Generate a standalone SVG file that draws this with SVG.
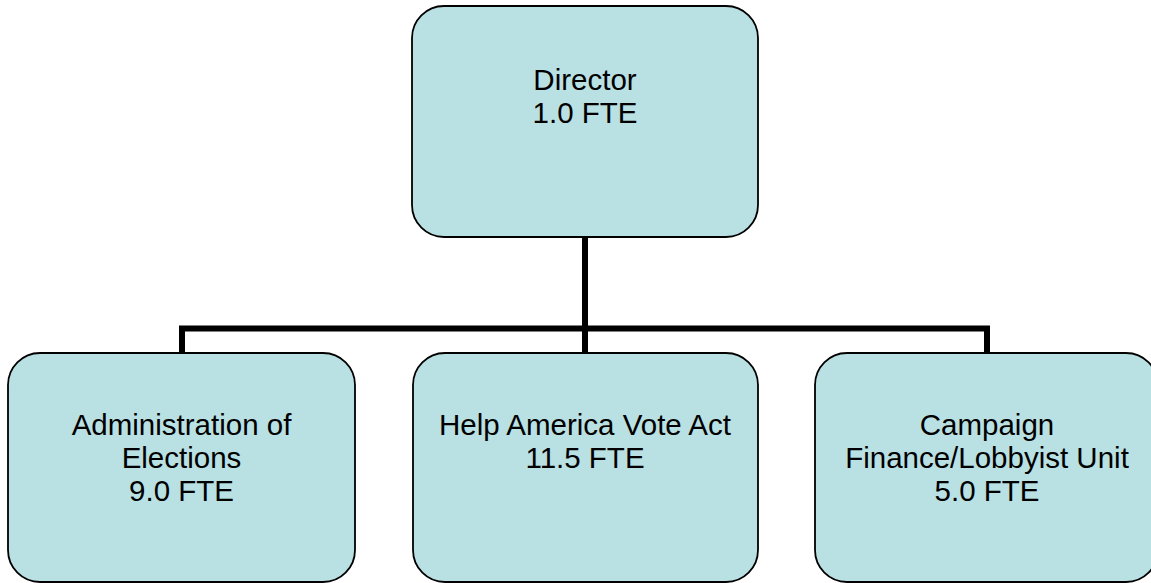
<svg xmlns="http://www.w3.org/2000/svg" width="1151" height="583" viewBox="0 0 1151 583">
  <style>
    .box { fill: #B9E0E3; stroke: #000; stroke-width: 1.8; }
    .label { font-family: "Liberation Sans", Arial, sans-serif; font-size: 29.5px; fill: #000; text-anchor: middle; }
    .link { fill: none; stroke: #000; stroke-width: 6; stroke-linejoin: miter; }
  </style>
  <rect width="1151" height="583" fill="#fff"/>

  <!-- org chart connectors -->
  <g id="connectors">
    <path class="link" d="M585 237 V328.5"/>
    <path class="link" d="M182 353 V328.5 H987 V353"/>
    <path class="link" d="M585 328.5 V353"/>
  </g>

  <g id="director">
    <rect class="box" x="412" y="6" width="346" height="231" rx="32" ry="32"/>
    <text class="label" x="585" y="90">Director</text>
    <text class="label" x="585" y="123">1.0 FTE</text>
  </g>

  <g id="elections">
    <rect class="box" x="8" y="353" width="347" height="229" rx="32" ry="32"/>
    <text class="label" x="181.5" y="435">Administration of</text>
    <text class="label" x="181.5" y="468">Elections</text>
    <text class="label" x="181.5" y="501">9.0 FTE</text>
  </g>

  <g id="hava">
    <rect class="box" x="413" y="353" width="345" height="229" rx="32" ry="32"/>
    <text class="label" x="585" y="435">Help America Vote Act</text>
    <text class="label" x="585" y="468">11.5 FTE</text>
  </g>

  <g id="campaign-finance">
    <rect class="box" x="815" y="353" width="343" height="229" rx="32" ry="32"/>
    <text class="label" x="987" y="435">Campaign</text>
    <text class="label" x="987" y="468">Finance/Lobbyist Unit</text>
    <text class="label" x="987" y="501">5.0 FTE</text>
  </g>
</svg>
